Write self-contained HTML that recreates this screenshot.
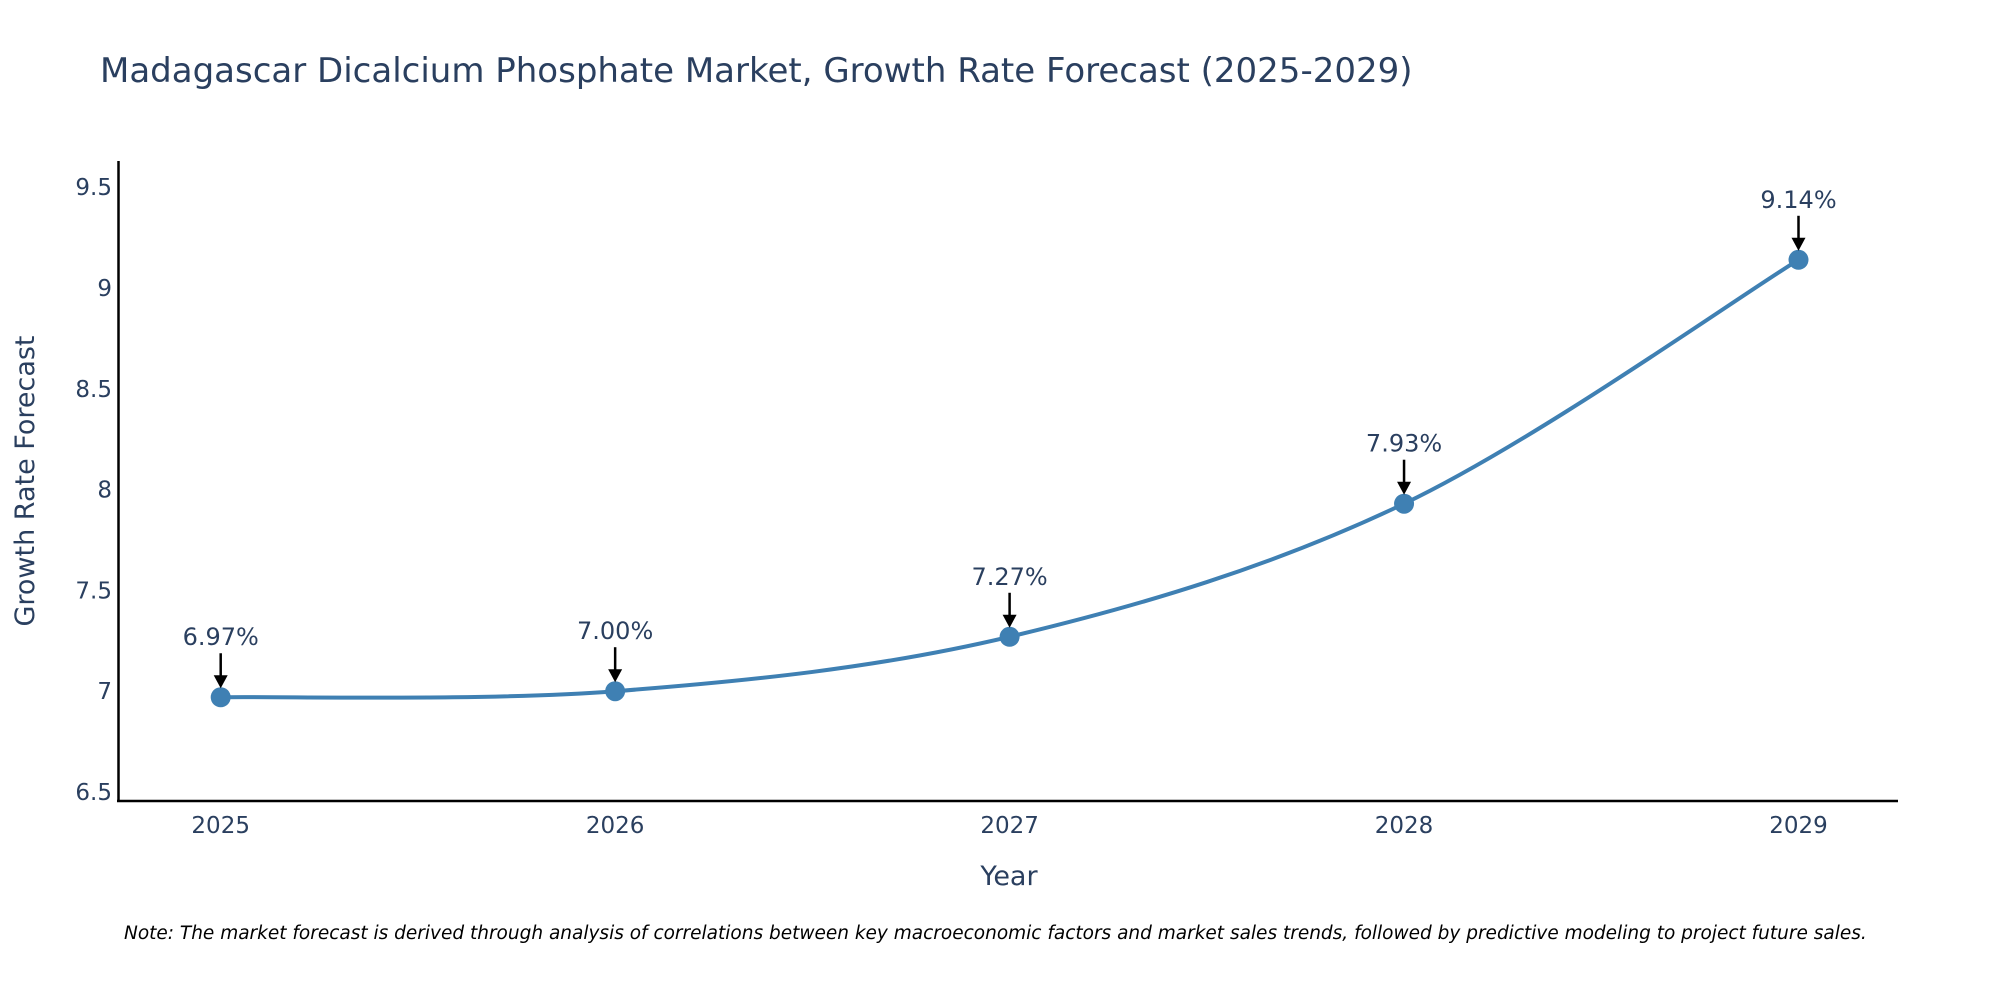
<!DOCTYPE html>
<html><head><meta charset="utf-8"><style>
body{margin:0;background:#fff;}
svg text{font-family:"DejaVu Sans","Liberation Sans",sans-serif;}
</style></head><body>
<svg id="chart" width="2000" height="1000" xmlns="http://www.w3.org/2000/svg">
<text x="100" y="82" font-size="34" fill="#2a3f5f">Madagascar Dicalcium Phosphate Market, Growth Rate Forecast (2025-2029)</text>
<g id="yticks"></g>
<g id="xticks"></g>
<line x1="118.5" y1="161" x2="118.5" y2="802" stroke="#000" stroke-width="2.5"/>
<line x1="117" y1="801" x2="1898" y2="801" stroke="#000" stroke-width="2.5"/>
<text transform="translate(34,481) rotate(-90)" text-anchor="middle" font-size="27" fill="#2a3f5f">Growth Rate Forecast</text>
<text x="1009" y="885" text-anchor="middle" font-size="27" fill="#2a3f5f">Year</text>
<path id="line" fill="none" stroke="#3f80b3" stroke-width="4"/>
<g id="marks"></g>
<text x="124" y="939" font-size="18.5" font-style="italic" fill="#000">Note: The market forecast is derived through analysis of correlations between key macroeconomic factors and market sales trends, followed by predictive modeling to project future sales.</text>
</svg>
<script>
const years = [2025, 2026, 2027, 2028, 2029];
const growth = [6.97, 7.00, 7.27, 7.93, 9.14];
const labels = ["6.97%", "7.00%", "7.27%", "7.93%", "9.14%"];
const yTicks = [6.5, 7, 7.5, 8, 8.5, 9, 9.5];
const yTickLabels = ["6.5", "7", "7.5", "8", "8.5", "9", "9.5"];

const NS = "http://www.w3.org/2000/svg";
const xs = y => 220.7 + (y - 2025) * 394.45;
const ys = v => 792 - (v - 6.5) * 201.6;
function mk(tag, attrs, parent) { const e = document.createElementNS(NS, tag); for (const k in attrs) e.setAttribute(k, attrs[k]); parent.appendChild(e); return e; }

const yg = document.getElementById('yticks');
yTicks.forEach((t, i) => {
  const e = mk('text', {x: 112, y: ys(t) + 8, 'text-anchor': 'end', 'font-size': 23, fill: '#2a3f5f'}, yg);
  e.textContent = yTickLabels[i];
  
  
});
const xg = document.getElementById('xticks');
years.forEach(y => {
  const e = mk('text', {x: xs(y), y: 833, 'text-anchor': 'middle', 'font-size': 23, fill: '#2a3f5f'}, xg);
  e.textContent = String(y);
  
  
});

const pts = years.map((y, i) => [xs(y), ys(growth[i])]);
let d = `M${pts[0][0]},${pts[0][1]}`;
const s = 0.5 / 3 * 2;
for (let i = 0; i < pts.length - 1; i++) {
  const p0 = pts[Math.max(0, i - 1)], p1 = pts[i], p2 = pts[i + 1], p3 = pts[Math.min(pts.length - 1, i + 2)];
  const c1 = [p1[0] + (p2[0] - p0[0]) * s / 2, p1[1] + (p2[1] - p0[1]) * s / 2];
  const c2 = [p2[0] - (p3[0] - p1[0]) * s / 2, p2[1] - (p3[1] - p1[1]) * s / 2];
  d += ` C${c1[0]},${c1[1]} ${c2[0]},${c2[1]} ${p2[0]},${p2[1]}`;
}
document.getElementById('line').setAttribute('d', d);

const mg = document.getElementById('marks');
pts.forEach((p, i) => {
  const c = mk('circle', {cx: p[0], cy: p[1], r: 10, fill: '#3f80b3'}, mg);
  
  
  const l = mk('line', {x1: p[0], y1: p[1] - 44, x2: p[0], y2: p[1] - 18, stroke: '#000', 'stroke-width': 2.5}, mg);
  
  
  const a = mk('polygon', {points: `${p[0]-7},${p[1]-22} ${p[0]+7},${p[1]-22} ${p[0]},${p[1]-9}`, fill: '#000'}, mg);
  
  
  const t = mk('text', {x: p[0], y: p[1] - 52, 'text-anchor': 'middle', 'font-size': 24, fill: '#2a3f5f'}, mg);
  t.textContent = labels[i];
  
  
});
</script>
</body></html>
